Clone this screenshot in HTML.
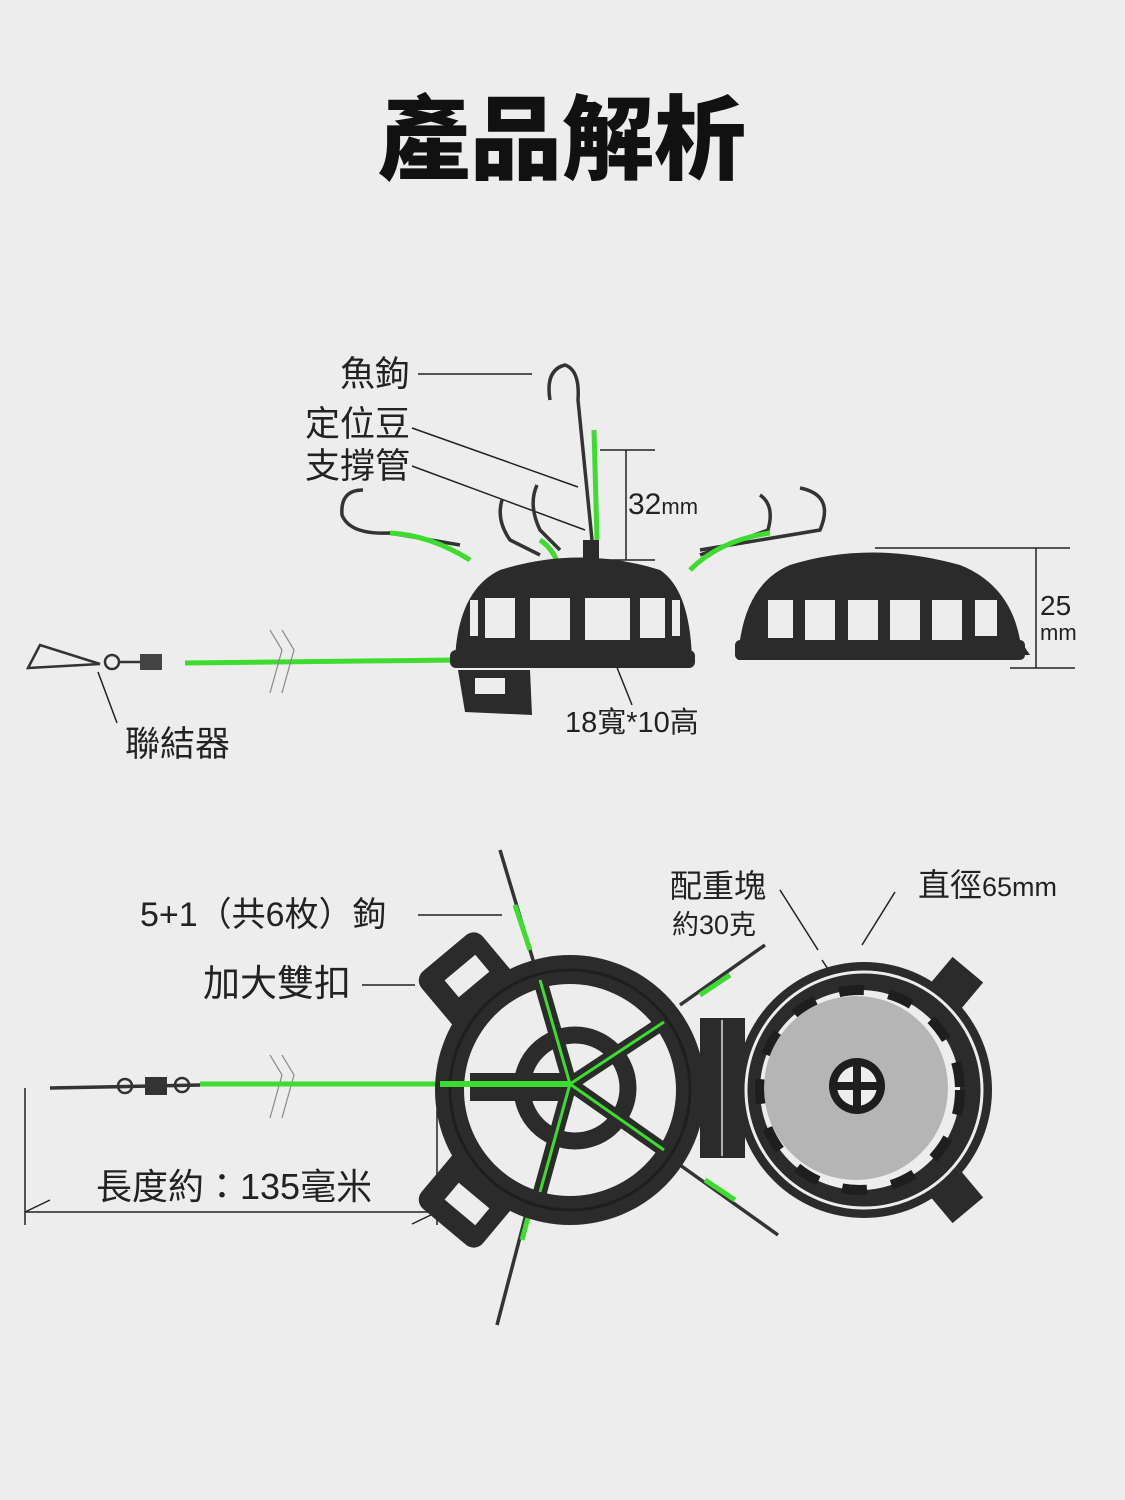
<!DOCTYPE html>
<html><head><meta charset="utf-8"><style>
html,body{margin:0;padding:0;background:#ededed;}
svg{display:block;}
text{font-family:"Liberation Sans","Noto Sans CJK TC",sans-serif;fill:#222;}
</style></head><body>
<svg width="1125" height="1500" viewBox="0 0 1125 1500" xmlns="http://www.w3.org/2000/svg">
<rect width="1125" height="1500" fill="#ededed"/>
<text x="562" y="172" font-size="92" font-weight="900" text-anchor="middle" style="fill:#111">產品解析</text>

<!-- ===== Side view ===== -->
<g stroke="#222" stroke-width="1.5" fill="none">
<line x1="418" y1="374" x2="532" y2="374"/>
<line x1="412" y1="428" x2="578" y2="487"/>
<line x1="412" y1="466" x2="585" y2="530"/>
<line x1="600" y1="450" x2="655" y2="450"/>
<line x1="626" y1="450" x2="626" y2="560"/>
<line x1="600" y1="560" x2="655" y2="560"/>
<line x1="875" y1="548" x2="1070" y2="548"/>
<line x1="1036" y1="548" x2="1036" y2="668"/>
<line x1="1010" y1="668" x2="1075" y2="668"/>
<line x1="600" y1="625" x2="632" y2="705"/>
<line x1="98" y1="672" x2="117" y2="723"/>
</g>
<text x="410" y="386" font-size="35" text-anchor="end">魚鉤</text>
<text x="410" y="436" font-size="35" text-anchor="end">定位豆</text>
<text x="410" y="478" font-size="35" text-anchor="end">支撐管</text>
<text x="628" y="514" font-size="30">32<tspan font-size="22">mm</tspan></text>
<text x="1040" y="615" font-size="28">25</text>
<text x="1040" y="640" font-size="22">mm</text>
<text x="565" y="732" font-size="29">18寬*10高</text>
<text x="125" y="756" font-size="35">聯結器</text>

<!-- hooks -->
<g stroke="#333" stroke-width="3.5" fill="none">
<path d="M550 400 Q545 370 565 365 Q580 370 578 400 L592 540"/>
<path d="M363 490 Q340 490 342 515 Q350 535 390 533 L460 545"/>
<path d="M502 500 Q496 520 510 540 L540 555"/>
<path d="M537 485 Q528 505 540 530 L560 550"/>
<path d="M760 495 Q775 505 768 530 L700 555"/>
<path d="M800 488 Q835 495 820 530 L700 550"/>
</g>
<g stroke="#3ddc2e" stroke-width="5" fill="none">
<line x1="594" y1="430" x2="597" y2="540"/>
<path d="M390 533 Q430 535 470 560"/>
<path d="M540 540 Q555 550 560 570"/>
<path d="M770 533 Q720 540 690 570"/>
<line x1="185" y1="663" x2="455" y2="660"/>
</g>
<g fill="#2b2b2b">
<path d="M455 660 Q458 590 500 570 Q580 545 660 570 Q690 590 692 660 Z"/>
<rect x="450" y="650" width="245" height="18" rx="6"/>
<path d="M458 670 L530 670 L532 715 L465 712 Z"/>
<rect x="583" y="540" width="16" height="25"/>
<path d="M738 660 Q742 585 790 565 Q870 540 960 565 Q1010 585 1020 640 L1030 655 L738 660 Z"/>
<rect x="735" y="640" width="290" height="20" rx="5"/>
</g>
<g fill="#ededed">
<rect x="485" y="598" width="30" height="40"/><rect x="530" y="598" width="40" height="42"/><rect x="585" y="598" width="45" height="42"/><rect x="640" y="598" width="25" height="40"/><rect x="470" y="600" width="8" height="36"/><rect x="672" y="600" width="8" height="36"/>
<rect x="768" y="600" width="25" height="38"/><rect x="805" y="600" width="30" height="40"/><rect x="848" y="600" width="30" height="40"/><rect x="890" y="600" width="30" height="40"/><rect x="932" y="600" width="30" height="40"/><rect x="975" y="600" width="22" height="36"/>
<rect x="475" y="678" width="30" height="16"/>
</g>
<g stroke="#333" stroke-width="2.5" fill="none">
<path d="M28 668 L40 645 L100 664 Z"/>
<circle cx="112" cy="662" r="7"/>
<line x1="118" y1="662" x2="140" y2="662"/>
</g>
<rect x="140" y="654" width="22" height="16" fill="#444"/>
<g stroke="#888" stroke-width="1.2" fill="none">
<path d="M270 630 L282 650 L270 693"/><path d="M282 630 L294 650 L282 693"/>
<path d="M270 1055 L282 1075 L270 1118"/><path d="M282 1055 L294 1075 L282 1118"/>
</g>

<!-- ===== Bottom view ===== -->
<g stroke="#222" stroke-width="1.5" fill="none">
<line x1="418" y1="915" x2="502" y2="915"/>
<line x1="362" y1="985" x2="415" y2="985"/>
<line x1="780" y1="890" x2="818" y2="950"/>
<line x1="895" y1="892" x2="862" y2="945"/>
<line x1="822" y1="960" x2="878" y2="1045"/>
<line x1="25" y1="1088" x2="25" y2="1225"/>
<line x1="437" y1="1110" x2="437" y2="1225"/>
<line x1="25" y1="1212" x2="437" y2="1212"/>
<line x1="25" y1="1212" x2="50" y2="1200"/>
<line x1="437" y1="1212" x2="412" y2="1224"/>
</g>
<text x="140" y="926" font-size="34">5+1（共6枚）鉤</text>
<text x="203" y="996" font-size="37">加大雙扣</text>
<text x="670" y="897" font-size="32">配重塊</text>
<text x="672" y="934" font-size="27">約30克</text>
<text x="918" y="896" font-size="32">直徑<tspan font-size="27">65mm</tspan></text>
<text x="96" y="1199" font-size="36">長度約：135毫米</text>

<g stroke="#333" stroke-width="3.5" fill="none">
<line x1="500" y1="850" x2="545" y2="1000"/>
<line x1="497" y1="1325" x2="535" y2="1180"/>
<line x1="765" y1="945" x2="680" y2="1005"/>
<line x1="778" y1="1235" x2="680" y2="1165"/>
<line x1="50" y1="1088" x2="200" y2="1085"/>
</g>
<g stroke="#3ddc2e" stroke-width="5" fill="none">
<line x1="200" y1="1084" x2="450" y2="1084"/>
<line x1="515" y1="905" x2="530" y2="950"/>
<line x1="522" y1="1240" x2="530" y2="1210"/>
<line x1="730" y1="975" x2="700" y2="995"/>
<line x1="735" y1="1200" x2="705" y2="1180"/>
</g>
<circle cx="125" cy="1086" r="7" stroke="#333" stroke-width="2.5" fill="none"/>
<rect x="145" y="1077" width="22" height="18" fill="#333"/>
<circle cx="182" cy="1085" r="7" stroke="#333" stroke-width="2.5" fill="none"/>

<g fill="#2b2b2b">
<rect x="427" y="945" width="80" height="70" rx="12" transform="rotate(-40 467 980)"/>
<rect x="427" y="1165" width="80" height="70" rx="12" transform="rotate(40 467 1200)"/>
<rect x="700" y="1018" width="45" height="140"/>
<rect x="935" y="965" width="40" height="40" transform="rotate(40 955 985)"/>
<rect x="935" y="1175" width="40" height="40" transform="rotate(-40 955 1195)"/>
</g>
<g fill="#ededed">
<rect x="447" y="965" width="40" height="22" transform="rotate(-40 467 976)"/>
<rect x="447" y="1193" width="40" height="22" transform="rotate(40 467 1204)"/>
</g>
<line x1="722" y1="1020" x2="722" y2="1156" stroke="#ddd" stroke-width="1.5"/>
<circle cx="570" cy="1090" r="135" fill="#2b2b2b"/>
<circle cx="570" cy="1090" r="106" fill="#ededed"/>
<circle cx="570" cy="1090" r="120" fill="none" stroke="#1e1e1e" stroke-width="3"/>
<circle cx="575" cy="1088" r="53" fill="none" stroke="#2b2b2b" stroke-width="17"/>
<rect x="470" y="1073" width="100" height="28" fill="#2b2b2b"/>
<g stroke="#2b2b2b" stroke-width="14">
<line x1="570" y1="1084" x2="540" y2="980"/><line x1="570" y1="1084" x2="664" y2="1022"/>
<line x1="570" y1="1084" x2="664" y2="1150"/><line x1="570" y1="1084" x2="540" y2="1192"/>
</g>
<g stroke="#3ddc2e" stroke-width="3">
<line x1="570" y1="1084" x2="540" y2="980"/><line x1="570" y1="1084" x2="664" y2="1022"/>
<line x1="570" y1="1084" x2="664" y2="1150"/><line x1="570" y1="1084" x2="540" y2="1192"/>
<line x1="440" y1="1084" x2="570" y2="1084" stroke-width="6"/>
</g>
<circle cx="864" cy="1090" r="128" fill="#2b2b2b"/>
<circle cx="864" cy="1090" r="118" fill="none" stroke="#ededed" stroke-width="3"/>
<circle cx="860" cy="1090" r="100" fill="#ededed"/>
<circle cx="860" cy="1090" r="100" fill="none" stroke="#1e1e1e" stroke-width="10" stroke-dasharray="25 25"/>
<circle cx="856" cy="1088" r="92" fill="#b5b5b5"/>
<circle cx="857" cy="1086" r="28" fill="#1e1e1e"/>
<circle cx="857" cy="1086" r="20" fill="#eee"/>
<rect x="853" y="1066" width="8" height="40" fill="#1e1e1e"/>
<rect x="837" y="1082" width="40" height="8" fill="#1e1e1e"/>
</svg>
</body></html>
